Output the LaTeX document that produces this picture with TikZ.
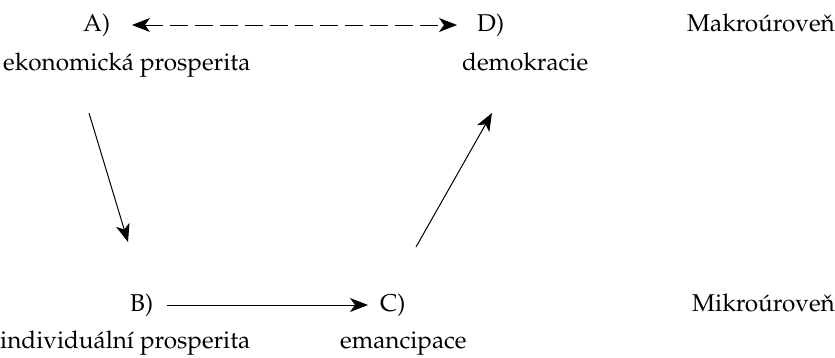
\documentclass[tikz,border=0pt]{standalone}
\usepackage[T1]{fontenc}
\usepackage{palatino}
\usetikzlibrary{arrows.meta}
\begin{document}
\begin{tikzpicture}[x=1pt,y=-1pt,
  lbl/.style={inner sep=0pt,anchor=base west,font=\fontsize{24.3}{28}\selectfont},
  tip/.tip={Stealth[length=18pt,width=14pt,inset=5pt]},
  conn/.style={line width=1pt,-tip},
  dconn/.style={line width=1pt,dash pattern=on 18pt off 7pt,tip-tip}]
\useasboundingbox (0,0) rectangle (835,357);
\node[lbl] (A) at (83,31) {A)};
\node[lbl] (D) at (477,31) {D)};
\node[lbl,anchor=base east] (mak) at (835,31) {Makro\'urove\v{n}};
\node[lbl] (ek) at (3,70) {ekonomick\'a prosperita};
\node[lbl] (dem) at (462,70) {demokracie};
\node[lbl] (B) at (130,311) {B)};
\node[lbl] (C) at (380,311) {C)};
\node[lbl,anchor=base east] (mik) at (835,311) {Mikro\'urove\v{n}};
\node[lbl] (ind) at (0,348) {individu\'aln\'i prosperita};
\node[lbl] (em) at (340,348) {emancipace};
\coordinate (a1s) at (89,113);
\coordinate (a1e) at (128,242);
\coordinate (a2s) at (416,247);
\coordinate (a2e) at (492,113);
\coordinate (dl) at (132,25);
\coordinate (dr) at (457,25);
\coordinate (bl) at (167,305);
\coordinate (br) at (368,305);
\draw[dconn] (dl) -- (dr);
\draw[conn] (a1s) -- (a1e);
\draw[conn] (a2s) -- (a2e);
\draw[conn] (bl) -- (br);
\end{tikzpicture}
\end{document}
